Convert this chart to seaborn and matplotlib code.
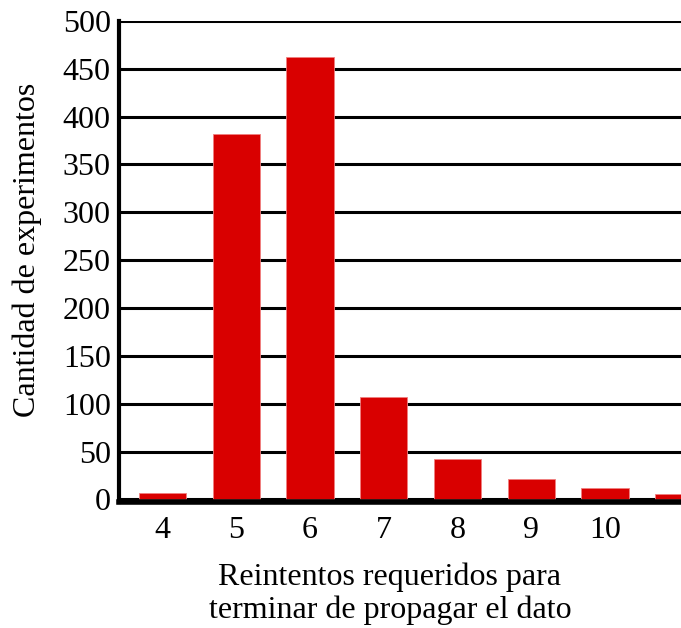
import matplotlib
matplotlib.use("Agg")
import matplotlib.pyplot as plt
import seaborn as sns
import pandas as pd

# datos
reintentos = ["4", "5", "6", "7", "8", "9", "10", ""]
experimentos = [7, 382, 462, 107, 42, 21, 12, 6]

sns.set_theme(style="white")
plt.rcParams['font.family'] = ['Liberation Serif', 'DejaVu Serif']

df = pd.DataFrame({"reintentos": range(len(reintentos)), "experimentos": experimentos})

fig = plt.figure(figsize=(6.81, 6.28), dpi=100)
ax = fig.add_axes([0.1747, 0.2003, 0.8253, 0.7663])

ax.set_axisbelow(True)
ax.yaxis.grid(True, color="black", linewidth=2.2)
sns.barplot(data=df, x="reintentos", y="experimentos", color="#d90000",
            saturation=1, width=0.64, edgecolor="#f08080", linewidth=0.6, ax=ax)

ax.set_xlim(-0.59, 7.03)
ax.set_ylim(-3, 500)
ax.set_yticks(range(0, 501, 50))
ax.set_xticks(range(len(reintentos)))
ax.set_xticklabels(reintentos)

for s in ["top", "right"]:
    ax.spines[s].set_visible(False)
ax.spines["left"].set_linewidth(3)
ax.spines["bottom"].set_linewidth(4)
ax.spines["left"].set_color("black")
ax.spines["bottom"].set_color("black")

ax.tick_params(axis="y", labelsize=23, colors="black", length=0, pad=6)
ax.tick_params(axis="x", labelsize=23, colors="black", length=0, pad=10)
ax.set_xlabel("Reintentos requeridos para\nterminar de propagar el dato",
              fontsize=23, color="black", linespacing=1.15)
ax.set_ylabel("Cantidad de experimentos", fontsize=23, color="black")
ax.xaxis.set_label_coords(0.482, -0.125)
ax.yaxis.set_label_coords(-0.137, 0.524)

fig.savefig("out.png", dpi=100)
